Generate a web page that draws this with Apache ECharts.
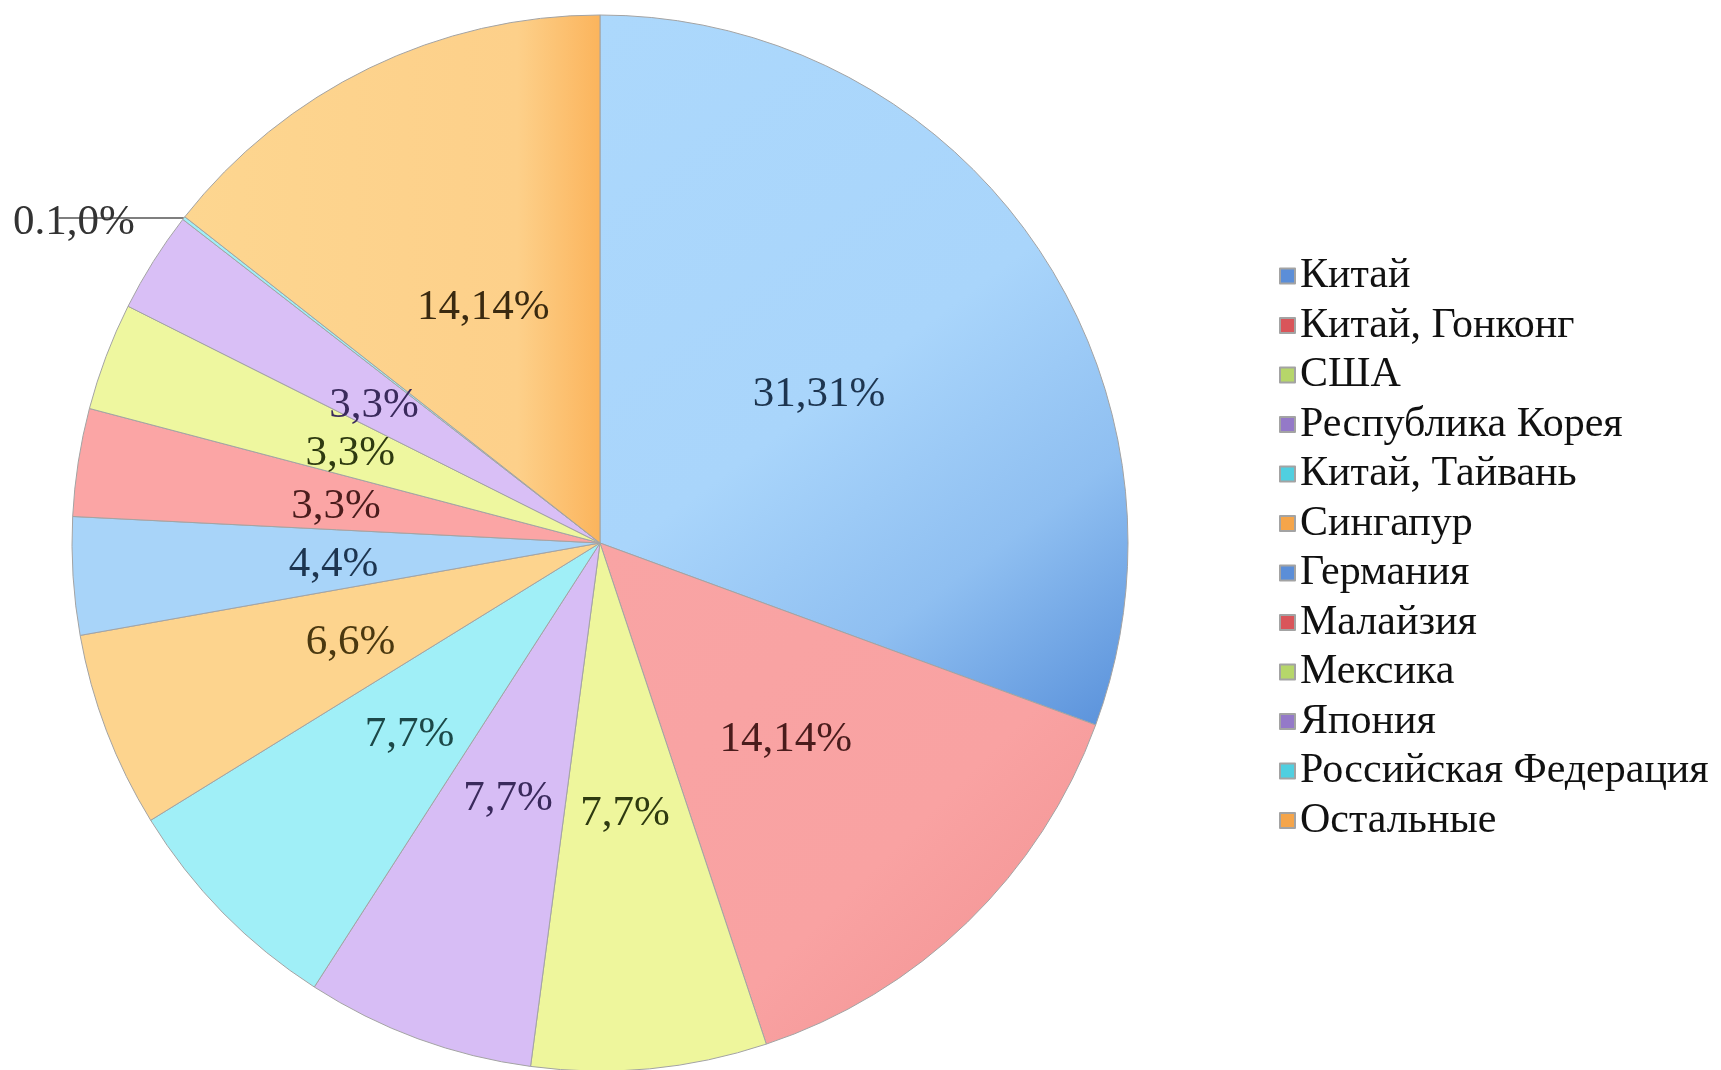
<!DOCTYPE html>
<html>
<head>
<meta charset="utf-8">
<title>pie</title>
<script src="https://cdn.jsdelivr.net/npm/echarts@6/dist/echarts.min.js"></script>
<style>
  html, body { margin: 0; padding: 0; background: #fff; }
  #myChart { width: 1721px; height: 1070px; }
</style>
</head>
<body>
<div id="myChart"></div>
<script>
// данные (доли читаются по углам секторов)
var countries = ['Китай', 'Китай, Гонконг', 'США', 'Республика Корея', 'Китай, Тайвань', 'Сингапур',
  'Германия', 'Малайзия', 'Мексика', 'Япония', 'Российская Федерация', 'Остальные'];
var values = [30.6, 14.3, 7.2, 7.0, 7.1, 6.0, 3.6, 3.3, 3.3, 3.1, 0.1, 14.4];
// подписи как на исходной диаграмме
var labelTexts = ['31,31%', '14,14%', '7,7%', '7,7%', '7,7%', '6,6%',
  '4,4%', '3,3%', '3,3%', '3,3%', '0.1,0%', '14,14%'];

// цвета секторов (светлые), цвета легенды и подписей
var sliceColors = ['#aad6fb', '#f9a3a3', '#eef69c', '#d7bdf5', '#a0eff7', '#fdd48e',
  '#a8d4f9', '#fba5a5', '#eef79f', '#d9bff6', '#a0eff7', '#fdd690'];
var legendColors = ['#5b8ed8', '#d9555a', '#b6d66a', '#9479c8', '#50cfe0', '#f5a54a',
  '#5b8ed8', '#d9555a', '#b6d66a', '#9479c8', '#50cfe0', '#f5a54a'];
var labelColors = ['#1d3550', '#4a1c1c', '#2e3a10', '#3a2a5c', '#1c4848', '#4a3810',
  '#1d3550', '#4a1c1c', '#2e3a10', '#3a2a5c', '#1c4848', '#3a2a10'];

var font = '"Liberation Serif", "Times New Roman", serif';

var myChart = echarts.init(document.getElementById('myChart'));

var pieData = countries.map(function (name, i) {
  var color = sliceColors[i];
  if (i === 0) {
    color = new echarts.graphic.LinearGradient(0, 0, 1, 1, [
      { offset: 0, color: '#acd8fc' },
      { offset: 0.5, color: '#a9d5fb' },
      { offset: 0.75, color: '#8fbff1' },
      { offset: 1, color: '#5890da' }
    ]);
  }
  if (i === 1) {
    color = new echarts.graphic.LinearGradient(0, 0, 1, 1, [
      { offset: 0, color: '#f9a4a4' },
      { offset: 0.6, color: '#f9a2a2' },
      { offset: 1, color: '#f19090' }
    ]);
  }
  if (i === 11) {
    color = new echarts.graphic.LinearGradient(0, 0, 1, 0, [
      { offset: 0, color: '#fdd690' },
      { offset: 0.8, color: '#fdd08a' },
      { offset: 1, color: '#fbb45c' }
    ]);
  }
  var item = {
    name: name,
    value: values[i],
    itemStyle: { color: color },
    label: { color: labelColors[i] }
  };
  // крошечный сектор - подпись снаружи с выноской
  if (values[i] < 1) {
    item.label = {
      position: 'outside',
      color: '#333',
      offset: [0, 5],
      distanceToLabelLine: -76
    };
    item.labelLine = {
      show: true,
      length: 0,
      length2: 125,
      lineStyle: { color: '#555', width: 1.5 }
    };
  }
  return item;
});

var option = {
  animation: false,
  legend: {
    orient: 'vertical',
    left: 1274,
    top: 249,
    itemWidth: 15,
    itemHeight: 15,
    itemGap: 5.5,
    icon: 'rect',
    selectedMode: false,
    textStyle: { fontFamily: font, fontSize: 42, color: '#111', lineHeight: 44 },
    data: countries.map(function (name, i) {
      return { name: name, itemStyle: { color: legendColors[i] } };
    })
  },
  series: [
    {
      type: 'pie',
      center: [600, 543],
      radius: 528,
      startAngle: 90,
      clockwise: true,
      avoidLabelOverlap: false,
      itemStyle: { borderColor: '#a3a3a3', borderWidth: 1 },
      label: {
        show: true,
        position: 'inside',
        fontFamily: font,
        fontSize: 43,
        offset: [0, 5],
        formatter: function (p) {
          return labelTexts[p.dataIndex];
        }
      },
      labelLine: { show: false },
      data: pieData
    }
  ]
};
myChart.setOption(option);
</script>
</body>
</html>
